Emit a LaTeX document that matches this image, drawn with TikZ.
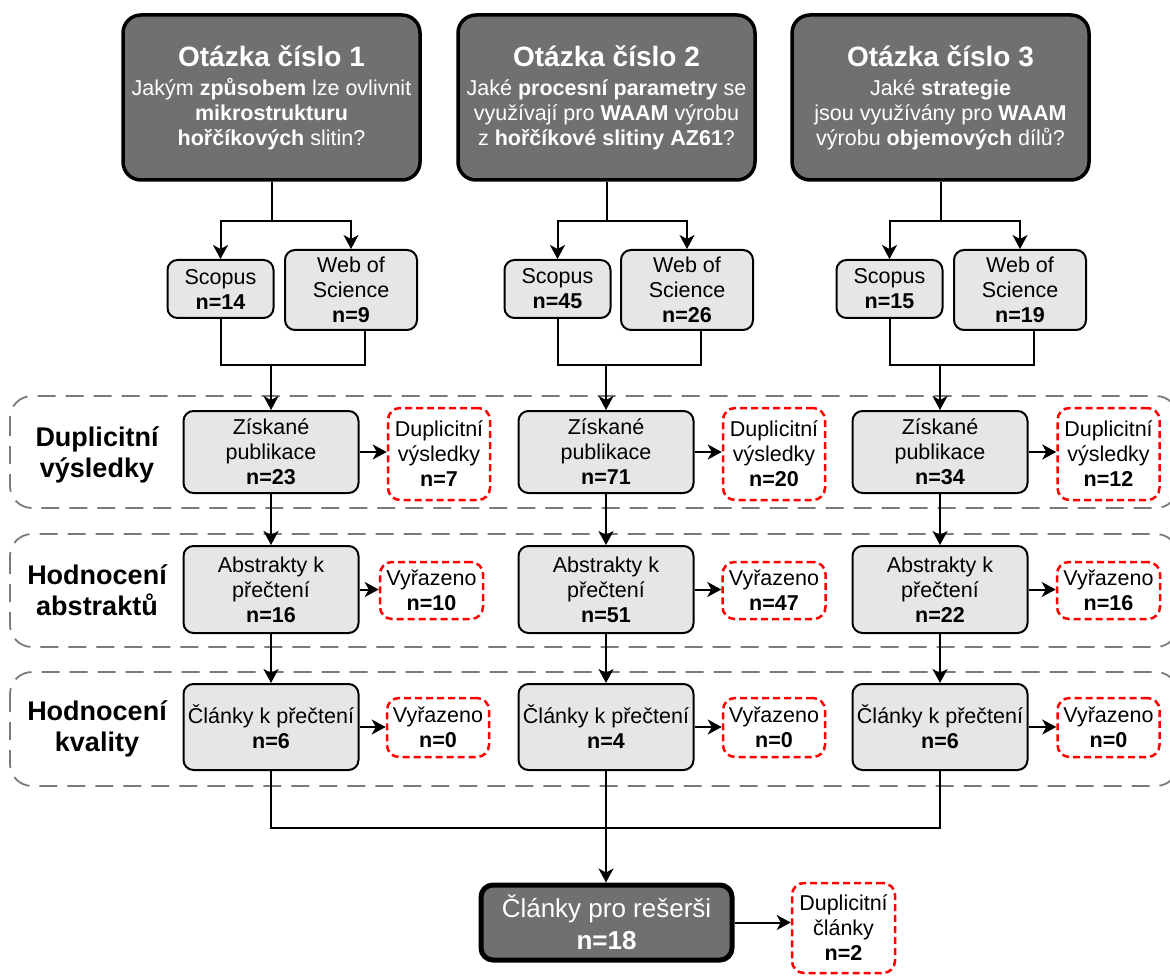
\documentclass[tikz,border=0pt]{standalone}
\usepackage{fontspec}
\setmainfont{Liberation Sans}
\usetikzlibrary{arrows.meta,calc}
\definecolor{darkfill}{HTML}{707070}
\definecolor{lightfill}{HTML}{E6E6E6}
\definecolor{grpline}{HTML}{7A7A7A}
\definecolor{redline}{HTML}{FF0000}
\newcommand{\myfs}[2]{\fontsize{#1}{#2}\selectfont}
\tikzset{
 qbox/.style={draw=black, line width=3.5pt, fill=darkfill, rounded corners=18pt, text=white, align=center, minimum width=297pt, minimum height=165pt, inner sep=0pt, font=\myfs{21.5}{25}},
 fbox/.style={draw=black, line width=5pt, fill=darkfill, rounded corners=12pt, text=white, align=center, minimum width=251pt, minimum height=75pt, inner sep=0pt, font=\myfs{26}{30}},
 lbox/.style={draw=black, line width=2pt, fill=lightfill, rounded corners=10pt, align=center, inner sep=0pt, font=\myfs{21.5}{25}},
 rbox/.style={draw=redline, line width=2.5pt, dash pattern=on 7pt off 4pt, rounded corners=12pt, align=center, inner sep=0pt, font=\myfs{21.5}{25}},
 grp/.style={draw=grpline, line width=1.8pt, dash pattern=on 18pt off 10pt, rounded corners=22pt},
 lbl/.style={align=center, font=\myfs{27}{31}\bfseries, inner sep=0pt},
 conn/.style={line width=2pt, draw=black},
 arr/.style={conn, -{Stealth[length=14pt,width=15pt,inset=4pt]}},
}
\begin{document}
\begin{tikzpicture}[x=1pt,y=-1pt]
\useasboundingbox (0,0) rectangle (1170,976);

% group frames
\draw[grp] (10,396) rectangle (1178,508);
\draw[grp] (10,534) rectangle (1178,647);
\draw[grp] (10,672) rectangle (1178,786);

\node[lbl] (g1) at (97,455) {Duplicitní\\výsledky};
\node[lbl] (g2) at (97,590) {Hodnocení\\abstraktů};
\node[lbl] (g3) at (97,729) {Hodnocení\\kvality};

% question boxes
\node[qbox] (q1) at (271.5,97.5) {{\myfs{28}{29}\bfseries Otázka číslo 1}\\[4pt]Jakým \textbf{způsobem} lze ovlivnit\\\textbf{mikrostrukturu}\\\textbf{hořčíkových} slitin?};
\node[qbox] (q2) at (606.5,97.5) {{\myfs{28}{29}\bfseries Otázka číslo 2}\\[4pt]Jaké \textbf{procesní parametry} se\\využívají pro \textbf{WAAM} výrobu\\z \textbf{hořčíkové slitiny AZ61}?};
\node[qbox] (q3) at (940.5,97.5) {{\myfs{28}{29}\bfseries Otázka číslo 3}\\[4pt]Jaké \textbf{strategie}\\jsou využívány pro \textbf{WAAM}\\výrobu \textbf{objemových} dílů?};

% databases
\node[lbox, minimum width=106pt, minimum height=58pt] (s1) at (220.5,289) {Scopus\\\textbf{n=14}};
\node[lbox, minimum width=132pt, minimum height=80pt] (w1) at (351,290) {Web of\\Science\\\textbf{n=9}};
\node[lbox, minimum width=106pt, minimum height=58pt] (s2) at (557.5,289) {Scopus\\\textbf{n=45}};
\node[lbox, minimum width=132pt, minimum height=80pt] (w2) at (687,290) {Web of\\Science\\\textbf{n=26}};
\node[lbox, minimum width=106pt, minimum height=58pt] (s3) at (889.5,289) {Scopus\\\textbf{n=15}};
\node[lbox, minimum width=132pt, minimum height=80pt] (w3) at (1020,290) {Web of\\Science\\\textbf{n=19}};

% obtained
\node[lbox, minimum width=175pt, minimum height=82pt] (z1) at (271,452) {Získané\\publikace\\\textbf{n=23}};
\node[lbox, minimum width=175pt, minimum height=82pt] (z2) at (606,452) {Získané\\publikace\\\textbf{n=71}};
\node[lbox, minimum width=175pt, minimum height=82pt] (z3) at (940,452) {Získané\\publikace\\\textbf{n=34}};
\node[rbox, minimum width=102pt, minimum height=92pt] (d1) at (439,454) {Duplicitní\\výsledky\\\textbf{n=7}};
\node[rbox, minimum width=102pt, minimum height=92pt] (d2) at (774,454) {Duplicitní\\výsledky\\\textbf{n=20}};
\node[rbox, minimum width=102pt, minimum height=92pt] (d3) at (1108.5,454) {Duplicitní\\výsledky\\\textbf{n=12}};

% abstracts
\node[lbox, minimum width=175pt, minimum height=87pt] (a1) at (271,589.5) {Abstrakty k\\přečtení\\\textbf{n=16}};
\node[lbox, minimum width=175pt, minimum height=87pt] (a2) at (606,589.5) {Abstrakty k\\přečtení\\\textbf{n=51}};
\node[lbox, minimum width=175pt, minimum height=87pt] (a3) at (940,589.5) {Abstrakty k\\přečtení\\\textbf{n=22}};
\node[rbox, minimum width=103pt, minimum height=57pt] (v1) at (431.5,590.5) {Vyřazeno\\\textbf{n=10}};
\node[rbox, minimum width=103pt, minimum height=57pt] (v2) at (774,590.5) {Vyřazeno\\\textbf{n=47}};
\node[rbox, minimum width=103pt, minimum height=57pt] (v3) at (1108.5,590.5) {Vyřazeno\\\textbf{n=16}};

% articles
\node[lbox, minimum width=175pt, minimum height=86pt] (c1) at (271,727) {Články k přečtení\\\textbf{n=6}};
\node[lbox, minimum width=175pt, minimum height=86pt] (c2) at (606,727) {Články k přečtení\\\textbf{n=4}};
\node[lbox, minimum width=175pt, minimum height=86pt] (c3) at (940,727) {Články k přečtení\\\textbf{n=6}};
\node[rbox, minimum width=102pt, minimum height=59pt] (x1) at (438,727.5) {Vyřazeno\\\textbf{n=0}};
\node[rbox, minimum width=102pt, minimum height=59pt] (x2) at (774,727.5) {Vyřazeno\\\textbf{n=0}};
\node[rbox, minimum width=102pt, minimum height=59pt] (x3) at (1108.5,727.5) {Vyřazeno\\\textbf{n=0}};

% final
\node[fbox] (fin) at (606.5,922.5) {Články pro rešerši\\[2pt]\textbf{n=18}};
\node[rbox, minimum width=103pt, minimum height=90pt] (df) at (843.5,928) {Duplicitní\\články\\\textbf{n=2}};

% connectors: questions to databases
\draw[arr] (q1.south) -- ++(0,39) -| (s1.north);
\draw[arr] (q1.south) -- ++(0,39) -| (w1.north);
\draw[arr] (q2.south) -- ++(0,39) -| (s2.north);
\draw[arr] (q2.south) -- ++(0,39) -| (w2.north);
\draw[arr] (q3.south) -- ++(0,39) -| (s3.north);
\draw[arr] (q3.south) -- ++(0,39) -| (w3.north);

% merges
\coordinate (m1) at (271,365);
\coordinate (m2) at (606,365);
\coordinate (m3) at (940,365);
\draw[conn] (s1.south) |- (m1) -| ([xshift=14pt]w1.south);
\draw[conn] (s2.south) |- (m2) -| ([xshift=14pt]w2.south);
\draw[conn] (s3.south) |- (m3) -| ([xshift=14pt]w3.south);
\draw[arr] (m1) -- (z1.north);
\draw[arr] (m2) -- (z2.north);
\draw[arr] (m3) -- (z3.north);

% side arrows
\foreach \a/\b in {z1/d1,z2/d2,z3/d3,a1/v1,a2/v2,a3/v3,c1/x1,c2/x2,c3/x3}
  \draw[arr] (\a.east) -- (\a.east -| \b.west);
% vertical flow
\foreach \a/\b in {z1/a1,z2/a2,z3/a3,a1/c1,a2/c2,a3/c3}
  \draw[arr] (\a.south) -- (\b.north);

% final merge
\coordinate (mf) at (606,828);
\draw[conn] (c1.south) |- (mf) -| (c3.south);
\draw[arr] (c2.south) -- (c2.south |- fin.north);
\draw[arr] (fin.east) -- (fin.east -| df.west);
\end{tikzpicture}
\end{document}
